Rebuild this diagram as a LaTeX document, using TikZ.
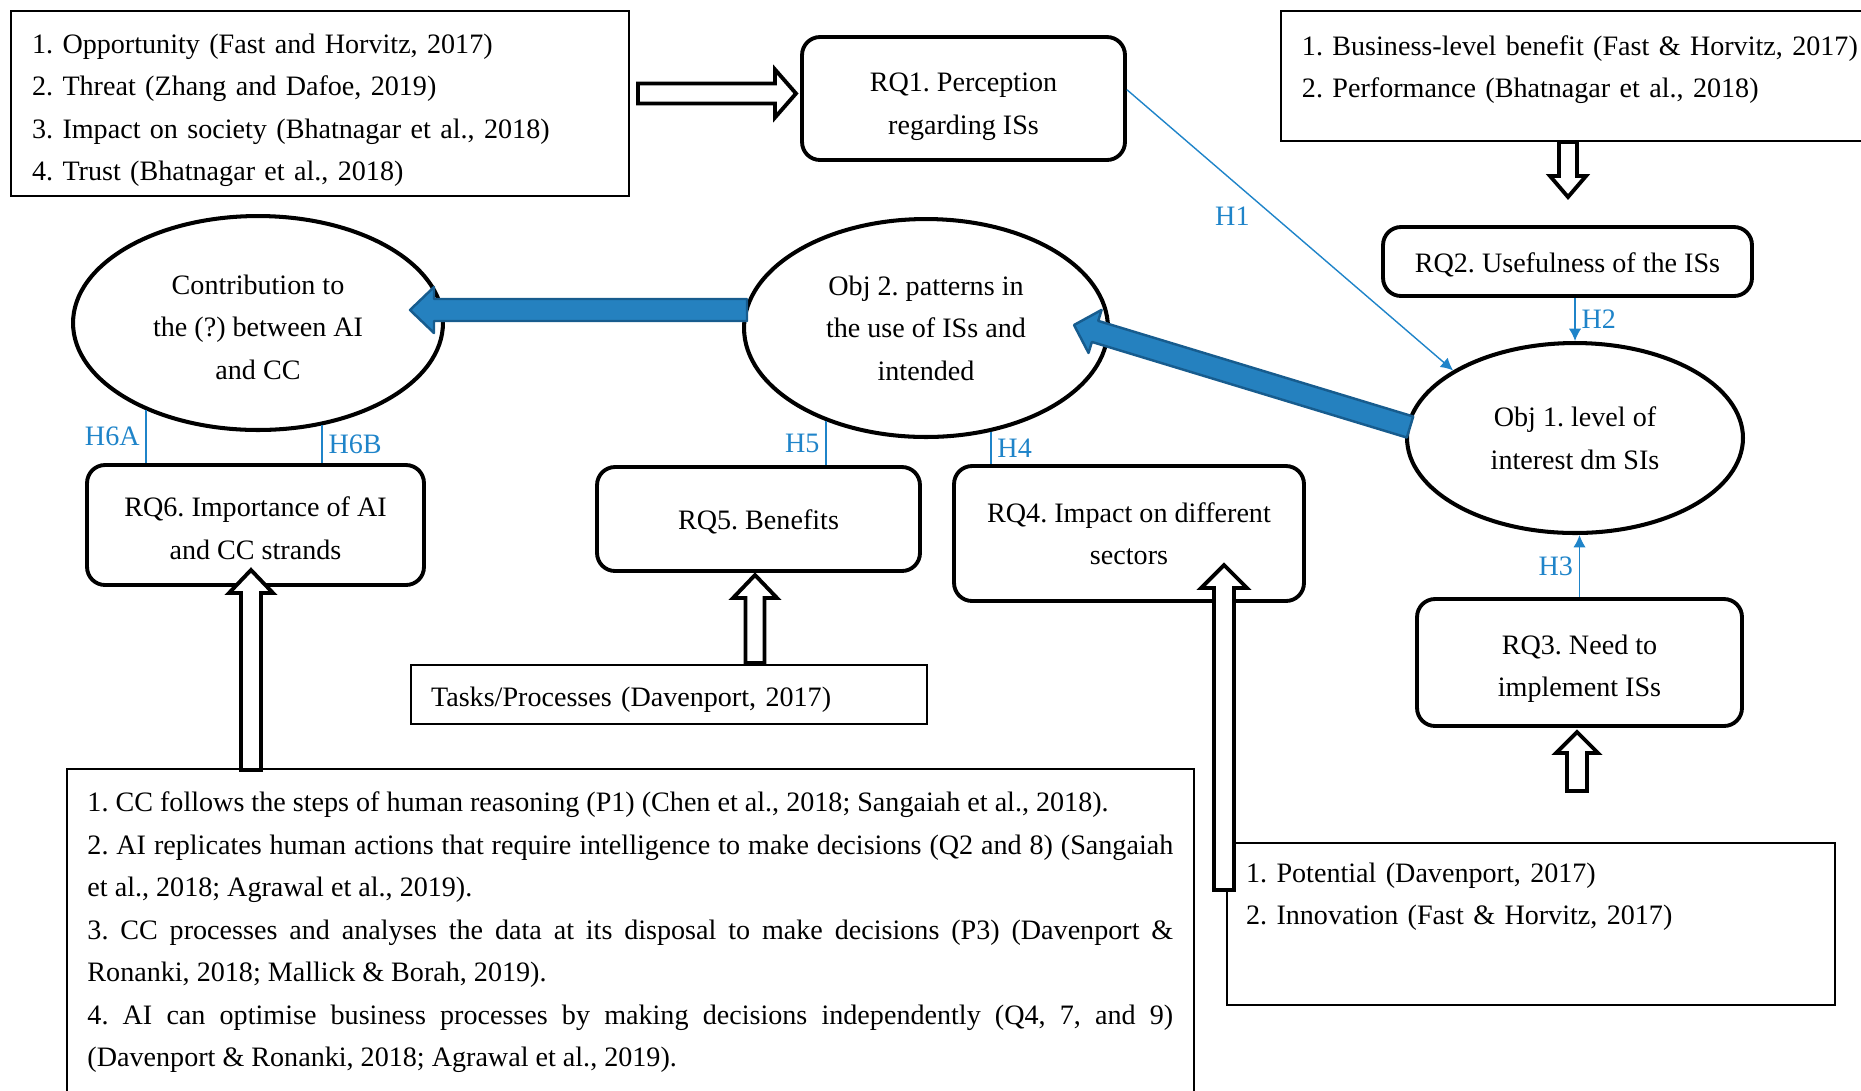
\documentclass[tikz,border=0pt]{standalone}
\usepackage{fontspec}
\setmainfont{Liberation Serif}
\usetikzlibrary{calc}
\usetikzlibrary{arrows.meta}
\usetikzlibrary{shapes,positioning}
\definecolor{hblue}{RGB}{31,132,201}
\definecolor{fatfill}{RGB}{37,129,191}
\definecolor{fatline}{RGB}{23,92,142}
\newcommand{\blockarrow}[6]{%
  \coordinate (ba) at ($(#3)!#6!(#2)$);
  \draw[#1] ($(#2)!#4!90:(#3)$) -- ($(ba)!#4!-90:(#2)$) -- ($(ba)!#5!-90:(#2)$)
    -- (#3) -- ($(ba)!#5!90:(#2)$) -- ($(ba)!#4!90:(#2)$) -- ($(#2)!#4!-90:(#3)$) -- cycle;
}

\begin{document}
\frenchspacing
\begin{tikzpicture}[x=0.02cm,y=-0.02cm,>={Latex[length=7pt,width=7pt]},
		font=\fontsize{16pt}{24.2pt}\selectfont,
		rq/.style={rectangle,rounded corners=0.36cm,draw=black,line width=2.2pt,align=center,inner sep=2pt,
			execute at begin node=\rule{0pt}{15pt}},
		obj/.style={ellipse,draw=black,line width=2.3pt,align=center,inner sep=0pt},
		lit/.style={rectangle,draw=black,line width=1.1pt,align=left,inner xsep=0.42cm},
		hyp/.style={hblue,line width=0.8pt},
		hollow/.style={draw=black,fill=white,line width=2.2pt,line join=miter},
		fat/.style={draw=fatline,fill=fatfill,line width=1.4pt,line join=round}]
		\useasboundingbox (0,0) rectangle (1861,1090);
		
		\node[lit,text width=11.52cm,minimum height=3.7cm] (lit1) at (320,103.5) {\rule{0pt}{19pt}1. Opportunity (Fast and Horvitz, 2017)\\2. Threat (Zhang and Dafoe, 2019)\\3. Impact on society (Bhatnagar et al., 2018)\\4. Trust (Bhatnagar et al., 2018)};
		\node[lit,text width=11.56cm,minimum height=2.6cm,anchor=north west] (lit2) at (1280,10) {1. Business-level benefit (Fast \& Horvitz, 2017)\\2. Performance (Bhatnagar et al., 2018)\\[-0.48cm]\mbox{}};
		\node[lit,text width=9.52cm,inner xsep=0.4cm,minimum height=1.18cm] (tasks) at (669,694.5) {\rule{0pt}{17.5pt}Tasks/Processes (Davenport, 2017)};
		\node[lit,text width=11.4cm,inner xsep=0.38cm,minimum height=3.24cm] (lit4) at (1531,924) {1. Potential (Davenport, 2017)\\2. Innovation (Fast \& Horvitz, 2017)\\[0.36cm]\mbox{}};
		\node[lit,anchor=north west,text width=21.72cm,inner xsep=0.41cm,inner ysep=0.46cm,align=justify] (lit3) at (66,768) {\parindent=0pt\hyphenpenalty=10000
			1. CC follows the steps of human reasoning (P1) (Chen et al., 2018; Sangaiah et al., 2018).\par
			2. AI replicates human actions that require intelligence to make decisions (Q2 and 8) (Sangaiah\linebreak et al., 2018; Agrawal et al., 2019).\par
			3. CC processes and analyses the data at its disposal to make decisions (P3) (Davenport \&\linebreak Ronanki, 2018; Mallick \& Borah, 2019).\par
			4. AI can optimise business processes by making decisions independently (Q4, 7, and 9)\linebreak (Davenport \& Ronanki, 2018; Agrawal et al., 2019).};
		
		\node[rq,minimum width=6.46cm,minimum height=2.46cm] (rq1) at (963.5,98.5) {\rule{0pt}{20pt}RQ1. Perception\\regarding ISs};
		\node[rq,minimum width=7.38cm,minimum height=1.38cm] (rq2) at (1567.5,261.5) {RQ2. Usefulness of the ISs};
		\node[rq,minimum width=6.5cm,minimum height=2.54cm] (rq3) at (1579.5,662.5) {\rule{0pt}{18pt}RQ3. Need to\\implement ISs};
		\node[rq,minimum width=7cm,minimum height=2.7cm] (rq4) at (1129,533.5) {RQ4. Impact on different\\sectors};
		\node[rq,minimum width=6.46cm,minimum height=2.08cm] (rq5) at (758.5,519) {RQ5. Benefits};
		\node[rq,minimum width=6.74cm,minimum height=2.4cm] (rq6) at (255.5,525) {\rule{0pt}{15pt}RQ6. Importance of AI\\and CC strands};
		
		\node[obj,minimum width=6.72cm,minimum height=3.8cm] (obj1) at (1575,438) {Obj 1. level of\\interest dm SIs};
		\node[obj,minimum width=7.28cm,minimum height=4.36cm] (obj2) at (926,328) {Obj 2. patterns in\\the use of ISs and\\intended};
		\node[obj,minimum width=7.4cm,minimum height=4.28cm] (contrib) at (258,323) {\rule{0pt}{16pt}Contribution to\\the (?) between AI\\and CC};
		
		\path[hyp,->]
		([yshift=5pt]rq1.east) edge node[pos=0.45,left=10pt] {H1} (obj1.151)
		(obj1.north |- rq2.south) edge node[right] {H2} (obj1.north)
		(rq3.north) edge node[left] {H3} (rq3.north |- obj1.south);
		\path[hyp]
		(obj2.302) edge node[right] {H4} (obj2.302 |- rq4.north)
		(obj2.223) edge node[left] {H5} (obj2.223 |- rq5.north)
		(contrib.218) edge node[left] {H6A} (contrib.218 |- rq6.north)
		(contrib.302) edge node[right] {H6B} (contrib.302 |- rq6.north);
		
		\coordinate (b1tail) at (747,310);
		\coordinate (b1tip) at (410,310);
		\coordinate (b2tail) at (1410,427);
		\coordinate (b2tip) at (1074,325);
		\blockarrow{fat}{b1tail}{b1tip}{0.22cm}{0.46cm}{0.48cm}
		\blockarrow{fat}{b2tail}{b2tip}{0.22cm}{0.45cm}{0.44cm}
		
		\coordinate (a1tail) at (638,93.5);
		\coordinate (a1tip) at (796,93.5);
		\coordinate (a2tail) at (1568,142);
		\coordinate (a2tip) at (1568,197);
		\coordinate (a3tail) at (1577,791);
		\coordinate (a3tip) at (1577,732);
		\coordinate (a4tail) at (1224,890);
		\coordinate (a4tip) at (1224,565);
		\coordinate (a5tail) at (755,663);
		\coordinate (a5tip) at (755,575);
		\coordinate (a6tail) at (251,770);
		\coordinate (a6tip) at (251,570);
		\blockarrow{hollow}{a1tail}{a1tip}{0.2cm}{0.48cm}{0.42cm}
		\blockarrow{hollow}{a2tail}{a2tip}{0.18cm}{0.36cm}{0.42cm}
		\blockarrow{hollow}{a3tail}{a3tip}{0.2cm}{0.42cm}{0.42cm}
		\blockarrow{hollow}{a4tail}{a4tip}{0.2cm}{0.46cm}{0.46cm}
		\blockarrow{hollow}{a5tail}{a5tip}{0.19cm}{0.44cm}{0.46cm}
		\blockarrow{hollow}{a6tail}{a6tip}{0.2cm}{0.44cm}{0.46cm}
\end{tikzpicture}
\end{document}
